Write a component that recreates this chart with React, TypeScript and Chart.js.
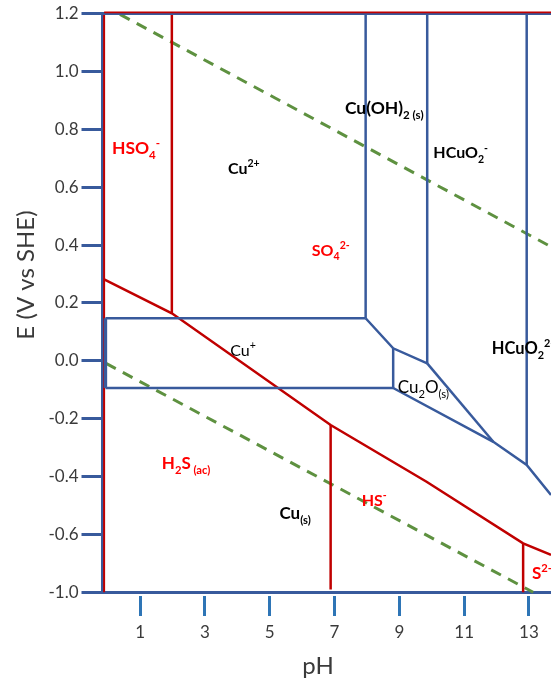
import React, { useEffect, useRef } from 'react';
import { Chart, registerables } from 'chart.js';

Chart.register(...registerables);

const W = 551;
const H = 685;
const FONT = 'Lato, "Open Sans", "Liberation Sans", sans-serif';

// ---- axes ----
const xMin = -0.16;
const xMax = 13.68;
const yMin = -0.8;
const yMax = 1.2;
const xTickValues = [1, 3, 5, 7, 9, 11, 13];
const yTickValues = [-0.8, -0.6, -0.4, -0.2, 0.0, 0.2, 0.4, 0.6, 0.8, 1.0, 1.2];
const yTickLabels = ['-1.0', '-0.6', '-0.4', '-0.2', '0.0', '0.2', '0.4', '0.6', '0.8', '1.0', '1.2'];
const xTitle = 'pH';
const yTitle = 'E (V vs SHE)';

// ---- copper boundaries (blue) ----
const frameTopPH = [-0.16, 13.68];
const frameTopE = [1.2, 1.2];
const cuPlusLeftPH = [-0.07, -0.07];
const cuPlusLeftE = [0.147, -0.094];
const cu2CuPlusPH = [-0.07, 7.96];
const cu2CuPlusE = [0.147, 0.147];
const cuPlusCuPH = [-0.07, 8.81];
const cuPlusCuE = [-0.094, -0.094];
const cuOH2LeftPH = [7.96, 7.96];
const cuOH2LeftE = [1.2, 0.147];
const cuOH2LowerPH = [7.96, 8.81, 9.86];
const cuOH2LowerE = [0.147, 0.043, -0.009];
const hcuo2LeftPH = [9.86, 9.86];
const hcuo2LeftE = [1.2, -0.009];
const cu2oLeftPH = [8.81, 8.81];
const cu2oLeftE = [0.043, -0.094];
const cu2oUpperPH = [9.86, 11.9];
const cu2oUpperE = [-0.009, -0.28];
const cuLowerPH = [8.81, 11.9, 12.93, 13.68];
const cuLowerE = [-0.094, -0.28, -0.36, -0.464];
const hcuo22LeftPH = [12.93, 12.93];
const hcuo22LeftE = [1.2, -0.36];

// ---- sulfur boundaries (red) ----
const sTopPH = [-0.11, 13.68];
const sTopE = [1.204, 1.204];
const sLeftPH = [-0.11, -0.11];
const sLeftE = [1.2, -0.8];
const hso4RightPH = [1.98, 1.98];
const hso4RightE = [1.2, 0.164];
const sLowerPH = [-0.11, 1.98, 6.88, 9.84, 12.82, 13.68];
const sLowerE = [0.2815, 0.164, -0.222, -0.418, -0.631, -0.671];
const h2sRightPH = [6.88, 6.88];
const h2sRightE = [-0.222, -0.79];
const hsRightPH = [12.82, 12.82];
const hsRightE = [-0.631, -0.8];

// ---- water stability (green dashed) ----
const o2LinePH = [0.38, 13.68];
const o2LineE = [1.197, 0.394];
const h2LinePH = [-0.05, 13.13];
const h2LineE = [-0.009, -0.8];

// ---- region labels ----
const labelTexts = [
  'HSO_{4}^{-}', 'Cu^{2+}', 'Cu(OH)_{2 (s)}', 'HCuO_{2}^{-}', 'SO_{4}^{2-}', 'Cu^{+}',
  'Cu_{2}O_{(s)}', 'HCuO_{2}^{2-}', 'H_{2}S_{ (ac)}', 'Cu_{(s)}', 'HS^{-}', 'S^{2-}',
];
const labelPH = [0.13, 3.71, 7.32, 10.05, 6.3, 3.78, 8.95, 11.85, 1.67, 5.3, 7.84, 13.09];
const labelE = [0.735, 0.666, 0.873, 0.719, 0.383, 0.037, -0.091, 0.044, -0.353, -0.526, -0.481, -0.732];
const labelColors = ['#FF0000', '#000', '#000', '#000', '#FF0000', '#000', '#000', '#000', '#FF0000', '#000', '#FF0000', '#FF0000'];
const labelBold = [true, true, true, true, true, false, false, true, true, true, true, true];
const labelSizes = [17.5, 16, 17.5, 16, 16, 16, 17, 16.5, 17, 17, 16, 17];

const BLUE = '#385A9C';
const RED = '#C00000';
const GREEN = '#5E9140';
const TEXT = '#3A3A3A';

function pts(xs: number[], ys: number[]) {
  return xs.map((x, i) => ({ x, y: ys[i] }));
}

function line(xs: number[], ys: number[], color: string, width: number, dash?: number[]) {
  return {
    data: pts(xs, ys),
    showLine: true,
    borderColor: color,
    backgroundColor: color,
    borderWidth: width,
    borderDash: dash || [],
    pointRadius: 0,
    pointHoverRadius: 0,
    fill: false,
    tension: 0,
    clip: 6,
  };
}

type Part = { t: string; k: 'n' | 'sub' | 'sup' };
function parseRich(s: string): Part[] {
  const parts: Part[] = [];
  let i = 0;
  const isMark = (j: number) => (s[j] === '_' || s[j] === '^') && s[j + 1] === '{';
  while (i < s.length) {
    if (isMark(i)) {
      const end = s.indexOf('}', i + 2);
      parts.push({ t: s.slice(i + 2, end), k: s[i] === '_' ? 'sub' : 'sup' });
      i = end + 1;
    } else {
      let j = i;
      while (j < s.length && !isMark(j)) j++;
      parts.push({ t: s.slice(i, j), k: 'n' });
      i = j;
    }
  }
  return parts;
}

function drawRich(ctx: CanvasRenderingContext2D, s: string, x: number, cy: number, size: number, bold: boolean, color: string) {
  const parts = parseRich(s);
  const w = bold ? 'bold' : 'normal';
  const base = cy + size * 0.36;
  let cx = x;
  ctx.fillStyle = color;
  ctx.textAlign = 'left';
  ctx.textBaseline = 'alphabetic';
  for (const p of parts) {
    let fs = size;
    let dy = 0;
    if (p.k === 'sub') { fs = size * 0.66; dy = size * 0.28; }
    if (p.k === 'sup') { fs = size * 0.66; dy = -size * 0.42; }
    ctx.font = `${w} ${fs}px ${FONT}`;
    ctx.fillText(p.t, cx, base + dy);
    cx += ctx.measureText(p.t).width;
  }
}

const textPlugin = {
  id: 'pourbaixText',
  afterDatasetsDraw(chart: any) {
    const ctx: CanvasRenderingContext2D = chart.ctx;
    const xs = chart.scales.x;
    const ys = chart.scales.y;
    ctx.save();
    labelTexts.forEach((t, i) => {
      drawRich(ctx, t, xs.getPixelForValue(labelPH[i]), ys.getPixelForValue(labelE[i]), labelSizes[i], labelBold[i], labelColors[i]);
    });
    // axis titles
    ctx.fillStyle = TEXT;
    ctx.font = `normal 24px ${FONT}`;
    ctx.textAlign = 'center';
    ctx.textBaseline = 'middle';
    ctx.fillText(xTitle, 318, 666);
    ctx.translate(26, 275);
    ctx.rotate(-Math.PI / 2);
    ctx.fillText(yTitle, 0, 0);
    ctx.restore();
  },
};

export default function App() {
  const ref = useRef<HTMLCanvasElement | null>(null);
  useEffect(() => {
    if (!ref.current) return;
    const datasets = [
      line(sTopPH, sTopE, RED, 1.6),
      line(frameTopPH, frameTopE, BLUE, 3),
      line(cuPlusLeftPH, cuPlusLeftE, BLUE, 3.5),
      line(cu2CuPlusPH, cu2CuPlusE, BLUE, 2.5),
      line(cuPlusCuPH, cuPlusCuE, BLUE, 2.5),
      line(cuOH2LeftPH, cuOH2LeftE, BLUE, 2.5),
      line(cuOH2LowerPH, cuOH2LowerE, BLUE, 2.5),
      line(hcuo2LeftPH, hcuo2LeftE, BLUE, 2.5),
      line(cu2oLeftPH, cu2oLeftE, BLUE, 2.5),
      line(cu2oUpperPH, cu2oUpperE, BLUE, 2.5),
      line(cuLowerPH, cuLowerE, BLUE, 2.5),
      line(hcuo22LeftPH, hcuo22LeftE, BLUE, 2.5),
      line(sLeftPH, sLeftE, RED, 2),
      line(hso4RightPH, hso4RightE, RED, 2.5),
      line(sLowerPH, sLowerE, RED, 2.5),
      line(h2sRightPH, h2sRightE, RED, 2.5),
      line(hsRightPH, hsRightE, RED, 2.5),
      line(o2LinePH, o2LineE, GREEN, 3, [11, 8]),
      line(h2LinePH, h2LineE, GREEN, 3, [11, 8]),
    ];
    const chart = new Chart(ref.current, {
      type: 'scatter',
      data: { datasets } as any,
      options: {
        animation: false,
        responsive: false,
        devicePixelRatio: 1,
        events: [],
        layout: { padding: { top: 13.5, left: 0, right: 0, bottom: 0 } },
        plugins: { legend: { display: false }, tooltip: { enabled: false } },
        scales: {
          x: {
            type: 'linear',
            min: xMin,
            max: xMax,
            afterBuildTicks: (s: any) => { s.ticks = xTickValues.map((v) => ({ value: v })); },
            afterFit: (s: any) => { s.height = H - 592.3; },
            border: { display: true, color: BLUE, width: 3 },
            grid: {
              drawOnChartArea: false,
              drawTicks: true,
              tickLength: 24,
              tickWidth: 3,
              tickColor: '#2E75B6',
              tickBorderDash: [20, 100],
              tickBorderDashOffset: 118,
            },
            ticks: {
              color: TEXT,
              font: { family: FONT, size: 17 },
              padding: 6,
              maxRotation: 0,
              autoSkip: false,
              callback: (v: any) => String(v),
            },
          },
          y: {
            type: 'linear',
            min: yMin,
            max: yMax,
            afterBuildTicks: (s: any) => { s.ticks = yTickValues.map((v) => ({ value: v })); },
            afterFit: (s: any) => { s.width = 102.5; },
            border: { display: true, color: BLUE, width: 3 },
            grid: {
              drawOnChartArea: false,
              drawTicks: true,
              tickLength: 21,
              tickWidth: 3,
              tickColor: BLUE,
            },
            ticks: {
              color: TEXT,
              font: { family: FONT, size: 17 },
              padding: 3,
              autoSkip: false,
              callback: (_v: any, i: number) => yTickLabels[i],
            },
          },
        },
      } as any,
      plugins: [textPlugin],
    });
    return () => chart.destroy();
  }, []);
  return (
    <div style={{ position: 'absolute', left: 0, top: 0, width: W, height: H, background: '#fff' }}>
      <canvas ref={ref} width={W} height={H} style={{ display: 'block' }} />
    </div>
  );
}
